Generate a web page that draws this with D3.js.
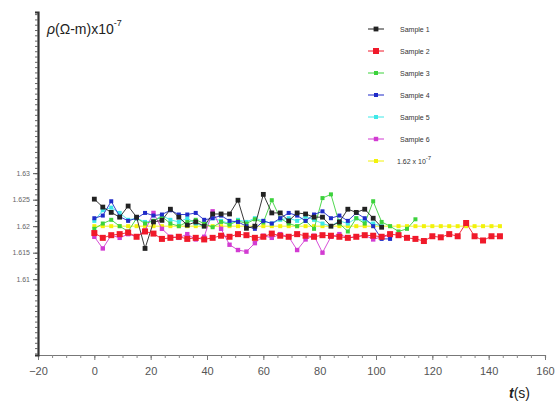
<!DOCTYPE html>
<html>
<head>
<meta charset="utf-8">
<script src="https://cdn.jsdelivr.net/npm/d3@7"></script>
<style>
  body { margin: 0; background: #fff; }
  svg { font-family: "Liberation Sans", Arial, sans-serif; }
</style>
</head>
<body>
<svg id="chart" width="555" height="403"></svg>
<script>
// time stamps (s)
const times = [0, 3, 6, 9, 12, 15, 18, 21, 24, 27, 30, 33, 36, 39, 42, 45, 48, 51, 54, 57,
  60, 63, 66, 69, 72, 75, 78, 81, 84, 87, 90, 93, 96, 99, 102, 105, 108, 111, 114, 117,
  120, 123, 126, 129, 132, 135, 138, 141, 144]

// resistivity x 10^-7 (Ohm m)
const sample1 = [1.6251, 1.6236, 1.6226, 1.6217, 1.6238, 1.6217, 1.6158, 1.6208, 1.6211, 1.6232,
  1.6217, 1.6202, 1.6208, 1.6200, 1.6223, 1.6223, 1.6223, 1.6249, 1.6196, 1.6200,
  1.6260, 1.6225, 1.6225, 1.6210, 1.6225, 1.6223, 1.6217, 1.6217, 1.6200, 1.6208,
  1.6232, 1.6226, 1.6232, 1.6215, 1.6198]
const sample2 = [1.6187, 1.6178, 1.6183, 1.6185, 1.6188, 1.6180, 1.6190, 1.6186, 1.6176, 1.6178,
  1.6180, 1.6176, 1.6178, 1.6175, 1.6178, 1.6182, 1.6180, 1.6185, 1.6183, 1.6178,
  1.6180, 1.6186, 1.6182, 1.6180, 1.6185, 1.6182, 1.6180, 1.6183, 1.6182, 1.6180,
  1.6178, 1.6180, 1.6183, 1.6182, 1.6180, 1.6185, 1.6183, 1.6178, 1.6176, 1.6172,
  1.6181, 1.6179, 1.6185, 1.6181, 1.6206, 1.6181, 1.6173, 1.6181, 1.6181]
const sample3 = [1.6195, 1.6205, 1.6212, 1.6200, 1.6190, 1.6215, 1.6205, 1.6210, 1.6218, 1.6205,
  1.6200, 1.6208, 1.6212, 1.6205, 1.6198, 1.6208, 1.6203, 1.6210, 1.6205, 1.6213,
  1.6207, 1.6249, 1.6215, 1.6205, 1.6200, 1.6210, 1.6195, 1.6253, 1.6260, 1.6205,
  1.6190, 1.6215, 1.6205, 1.6247, 1.6208, 1.6200, 1.6190, 1.6195, 1.6213]
const sample4 = [1.6215, 1.6220, 1.6247, 1.6218, 1.6210, 1.6215, 1.6225, 1.6220, 1.6222, 1.6230,
  1.6222, 1.6222, 1.6225, 1.6212, 1.6215, 1.6220, 1.6210, 1.6208, 1.6200, 1.6195,
  1.6210, 1.6205, 1.6215, 1.6225, 1.6220, 1.6210, 1.6222, 1.6228, 1.6215, 1.6220,
  1.6210, 1.6225, 1.6215, 1.6200, 1.6176, 1.6176]
const sample5 = [1.6210, 1.6230, 1.6235, 1.6225, 1.6212, 1.6215, 1.6208, 1.6210, 1.6220, 1.6212,
  1.6208, 1.6215, 1.6205, 1.6200, 1.6215, 1.6210, 1.6205, 1.6212, 1.6208, 1.6215,
  1.6210, 1.6205, 1.6212, 1.6215, 1.6210, 1.6218, 1.6212, 1.6205, 1.6200, 1.6210,
  1.6205, 1.6215, 1.6210, 1.6205, 1.6200]
const sample6 = [1.6180, 1.6158, 1.6183, 1.6178, 1.6185, 1.6180, 1.6192, 1.6225, 1.6195, 1.6180,
  1.6178, 1.6185, 1.6175, 1.6180, 1.6228, 1.6195, 1.6165, 1.6155, 1.6152, 1.6168,
  1.6182, 1.6178, 1.6185, 1.6180, 1.6155, 1.6175, 1.6182, 1.6150, 1.6180, 1.6185,
  1.6178, 1.6180, 1.6183, 1.6175, 1.6180, 1.6182]
const refValue = 1.62

const xTicks = [-20, 0, 20, 40, 60, 80, 100, 120, 140, 160]
const yTicks = [1.61, 1.615, 1.62, 1.625, 1.63]
const yTickLabels = ["1.61", "1.615", "1.62", "1.625", "1.63"]

const series = [
  {name: "1.62 x 10", sup: "-7", color: "#f2f20a", values: times.map(() => refValue), r: 2},
  {name: "Sample 5", color: "#3ee8e8", values: sample5, r: 2},
  {name: "Sample 6", color: "#d23bd2", values: sample6, r: 2.2},
  {name: "Sample 3", color: "#3cd23c", values: sample3, r: 2},
  {name: "Sample 4", color: "#1f2bc8", values: sample4, r: 2},
  {name: "Sample 1", color: "#222222", values: sample1, r: 2.4},
  {name: "Sample 2", color: "#f0192a", values: sample2, r: 3}
]
const legendOrder = ["Sample 1", "Sample 2", "Sample 3", "Sample 4", "Sample 5", "Sample 6", "1.62 x 10"]

const svg = d3.select("#chart")

const x = d3.scaleLinear().domain([-20, 160]).range([38, 545])
const y = d3.scaleLinear().domain([1.5957, 1.6604]).range([355, 12])

// x axis
const xAxis = svg.append("g").attr("transform", "translate(0,355)")
xAxis.call(d3.axisBottom(x).tickValues(d3.range(-20, 161, 5)).tickSize(3).tickFormat(""))
xAxis.select(".domain").attr("stroke", "#777").attr("stroke-width", 1.2)
xAxis.selectAll(".tick line").attr("stroke", "#888")
xAxis.append("g").call(d3.axisBottom(x).tickValues(xTicks).tickSize(5))
  .call(g => g.select(".domain").remove())
  .call(g => g.selectAll(".tick line").attr("stroke", "#777"))
  .call(g => g.selectAll(".tick text").attr("fill", "#555").attr("font-size", 11).attr("dy", "1.1em"))

// y axis
const yAxis = svg.append("g").attr("transform", "translate(38,0)")
yAxis.call(d3.axisLeft(y).tickValues(d3.range(1.596, 1.6601, 0.001)).tickSize(3).tickFormat(""))
yAxis.select(".domain").attr("stroke", "#333").attr("stroke-width", 2.2)
yAxis.selectAll(".tick line").attr("stroke", "#666")
yAxis.append("g").call(d3.axisLeft(y).tickValues(yTicks).tickSize(5)
  .tickFormat((d, i) => yTickLabels[i]))
  .call(g => g.select(".domain").remove())
  .call(g => g.selectAll(".tick line").attr("stroke", "#555"))
  .call(g => g.selectAll(".tick text").attr("fill", "#666").attr("font-size", 7))

// series
const line = d3.line().x((d, i) => x(times[i])).y(d => y(d))
series.forEach(s => {
  svg.append("path")
    .datum(s.values)
    .attr("fill", "none")
    .attr("stroke", s.color)
    .attr("stroke-width", 0.9)
    .attr("d", line)
  svg.append("g").selectAll("rect")
    .data(s.values)
    .join("rect")
    .attr("x", (d, i) => x(times[i]) - s.r)
    .attr("y", d => y(d) - s.r)
    .attr("width", s.r * 2)
    .attr("height", s.r * 2)
    .attr("fill", s.color)
})

// legend
const legend = svg.append("g").attr("transform", "translate(368,29)")
legendOrder.forEach((name, i) => {
  const s = series.find(d => d.name === name)
  const g = legend.append("g").attr("transform", "translate(0," + (i * 22) + ")")
  g.append("line").attr("x1", 0).attr("x2", 16).attr("y1", 0).attr("y2", 0)
    .attr("stroke", s.color).attr("stroke-width", 1)
  g.append("rect").attr("x", 8 - s.r).attr("y", -s.r).attr("width", s.r * 2).attr("height", s.r * 2)
    .attr("fill", s.color)
  const t = g.append("text").attr("x", s.sup ? 29 : 32).attr("y", 3).attr("font-size", 7).attr("fill", "#333")
    .text(s.name)
  if (s.sup) t.append("tspan").attr("dy", -4).attr("font-size", 6).text(s.sup)
})

// axis titles
const yt = svg.append("text").attr("x", 47).attr("y", 34).attr("font-size", 14).attr("fill", "#222")
yt.append("tspan").attr("font-style", "italic").text("ρ")
yt.append("tspan").text("(Ω-m)x10")
yt.append("tspan").attr("dy", -8).attr("font-size", 9).text("-7")

const xt = svg.append("text").attr("x", 509).attr("y", 398).attr("font-size", 14).attr("fill", "#222")
xt.append("tspan").attr("font-style", "italic").attr("font-weight", "bold").text("t")
xt.append("tspan").text("(s)")
</script>
</body>
</html>
